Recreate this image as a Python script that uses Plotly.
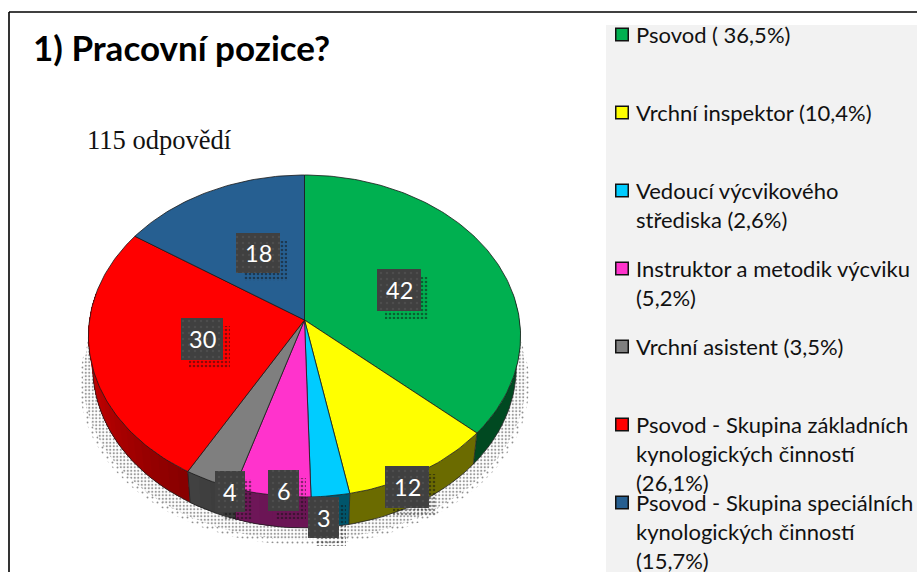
import numpy as np
import plotly.graph_objects as go

# ---- data ----
values = [42, 12, 3, 6, 4, 30, 18]
legend_labels = [
    "Psovod ( 36,5%)",
    "Vrchní inspektor (10,4%)",
    "Vedoucí výcvikového<br>střediska (2,6%)",
    "Instruktor a metodik výcviku<br>(5,2%)",
    "Vrchní asistent (3,5%)",
    "Psovod - Skupina základních<br>kynologických činností<br>(26,1%)",
    "Psovod - Skupina speciálních<br>kynologických činností<br>(15,7%)",
]
colors = ["#00B050", "#FFFF00", "#00CCFF", "#FF33CC", "#7F7F7F", "#FF0000", "#265F91"]
title_text = "1) Pracovní pozice?"
subtitle_text = "115 odpovědí"

# ---- layout constants (pixels) ----
W, H = 917, 572
CX, CY, A, B, K = 304.5, 320.0, 215.0, 159.4, -0.0994
DEPTH, WALL_SCALE = 31.0, 0.98
label_boxes = [(377, 421, 269, 311), (385, 429, 466, 508), (308, 339, 497, 538),
               (268, 299, 470, 511), (215, 245, 471, 512), (181, 223, 318, 360),
               (236, 280, 233, 273)]
legend_first_y, legend_step, legend_line = 34.5, 78, 28.8
font_sans = "Lato"


def project(theta_deg, scale=1.0, dy=0.0):
    t = np.radians(np.asarray(theta_deg, dtype=float))
    v = -np.cos(t)
    w = 1 + K * v
    return CX + scale * A * np.sin(t) / w, CY + B * v / w + dy


def shade(hex_color, f):
    r, g, b = (int(hex_color[i:i + 2], 16) for i in (1, 3, 5))
    return f"rgb({int(r * f)},{int(g * f)},{int(b * f)})"


def wall_factor(theta):
    return 0.42 + 0.43 * min(max((theta - 190) / 80, 0), 1)


def poly(fig, xs, ys, fill, line="rgba(0,0,0,0)", lw=0, pattern=None):
    fig.add_trace(go.Scatter(x=list(xs), y=list(ys), mode="lines", fill="toself",
                             fillcolor=fill, line=dict(color=line, width=lw),
                             fillpattern=pattern, hoverinfo="skip", showlegend=False))


fig = go.Figure()
total = sum(values)
edges = np.concatenate([[0], np.cumsum(values)]) * 360.0 / total

# stippled drop shadow under the disc: sparse outer band, denser inner band
th = np.linspace(0, 360, 181)
sx, sy = project(th, 1.04, 48)
poly(fig, sx, sy, "white", pattern=dict(shape=".", size=5, solidity=0.12, fgcolor="#222222", bgcolor="white"))
sx, sy = project(th, 1.025, 43)
poly(fig, sx, sy, "white", pattern=dict(shape=".", size=3.5, solidity=0.3, fgcolor="#333333", bgcolor="white"))

# side wall: a solid block per slice, then shading strips on top without seams
for i, col in enumerate(colors):
    a0, a1 = max(edges[i], 80), min(edges[i + 1], 280)
    if a1 <= a0:
        continue
    n = max(int((a1 - a0) / 3), 1) if wall_factor(a1) > 0.42 else 1
    steps = np.linspace(a0, a1, n + 1)
    # paint from the far end so each strip overlaps the next one
    for k in range(n):
        s0, s1 = steps[k], a1
        seg = np.linspace(s0, s1, max(int((s1 - s0) / 2), 3))
        xt, yt = project(seg)
        xb, yb = project(seg, WALL_SCALE, DEPTH)
        c = shade(col, wall_factor((steps[k] + steps[k + 1]) / 2))
        poly(fig, np.r_[xt, xb[::-1], xt[0]], np.r_[yt, yb[::-1], yt[0]], c)

# wall outlines
seg = np.linspace(80, 280, 101)
xb, yb = project(seg, WALL_SCALE, DEPTH)
fig.add_trace(go.Scatter(x=xb, y=yb, mode="lines", line=dict(color="#222222", width=0.8),
                         hoverinfo="skip", showlegend=False))
for e in edges:
    if 80 <= e <= 280:
        xt, yt = project(e)
        xb1, yb1 = project(e, WALL_SCALE, DEPTH)
        fig.add_trace(go.Scatter(x=[xt, xb1], y=[yt, yb1], mode="lines",
                                 line=dict(color="#222222", width=0.8),
                                 hoverinfo="skip", showlegend=False))

# top face
for i, col in enumerate(colors):
    seg = np.linspace(edges[i], edges[i + 1], max(int(values[i] * 3), 6))
    xt, yt = project(seg)
    poly(fig, np.r_[CX, xt, CX], np.r_[CY, yt, CY], col, "#1a1a1a", 0.8)

# data labels with their stippled shadow
annotations = []
for val, (x0, x1, y0, y1) in zip(values, label_boxes):
    ox, oy = 7, 8
    poly(fig, [x0 + 8, x1 + ox, x1 + ox, x0 + 8, x0 + 8], [y0 + 8, y0 + 8, y1 + oy, y1 + oy, y0 + 8],
         "rgba(0,0,0,0)", pattern=dict(shape=".", size=4, solidity=0.35, fgcolor="#111111", bgcolor="rgba(0,0,0,0)"))
    poly(fig, [x0, x1, x1, x0, x0], [y0, y0, y1, y1, y0], "#404040",
         pattern=dict(shape=".", size=6, solidity=0.12, fgcolor="#5a5a5a", bgcolor="#404040"))
    annotations.append(dict(x=(x0 + x1) / 2, y=(y0 + y1) / 2, text=str(val), showarrow=False,
                            xanchor="center", yanchor="middle",
                            font=dict(family=font_sans, size=23.5, color="white")))

# legend
sw_x, sw_y = [], []
for i, label in enumerate(legend_labels):
    y = legend_first_y + i * legend_step
    sw_x.append(622)
    sw_y.append(y)
    for j, line in enumerate(label.split("<br>")):
        annotations.append(dict(x=633.5, y=y + j * legend_line, text=line, showarrow=False,
                                xanchor="left", yanchor="middle",
                                font=dict(family=font_sans, size=22, color="#111111")))
fig.add_trace(go.Scatter(x=sw_x, y=sw_y, mode="markers", hoverinfo="skip", showlegend=False,
                         marker=dict(symbol="square", size=12.5, color=colors,
                                     line=dict(color="#111111", width=1.5))))

annotations.append(dict(x=31, y=47, text=f"<b>{title_text}</b>", showarrow=False, xanchor="left",
                        yanchor="middle", font=dict(family=font_sans, size=35, color="black")))
annotations.append(dict(x=85, y=140, text=subtitle_text, showarrow=False, xanchor="left",
                        yanchor="middle", font=dict(family="Liberation Serif", size=26.5, color="#111111")))

fig.update_layout(
    width=W, height=H, margin=dict(l=0, r=0, t=0, b=0),
    paper_bgcolor="white", plot_bgcolor="white", showlegend=False,
    xaxis=dict(range=[0, W], visible=False, fixedrange=True),
    yaxis=dict(range=[H, 0], visible=False, fixedrange=True),
    annotations=annotations,
    shapes=[
        dict(type="rect", x0=606, x1=W, y0=25, y1=H, fillcolor="#F2F2F2", line_width=0, layer="below"),
        dict(type="line", x0=9, x1=W, y0=12, y1=12, line=dict(color="black", width=1.6), layer="below"),
        dict(type="line", x0=9, x1=9, y0=12, y1=H, line=dict(color="black", width=1.6), layer="below"),
    ],
)
fig.write_html("out.html", config=dict(displayModeBar=False),
               post_script="document.body.style.margin='0';document.body.style.overflow='hidden';")
